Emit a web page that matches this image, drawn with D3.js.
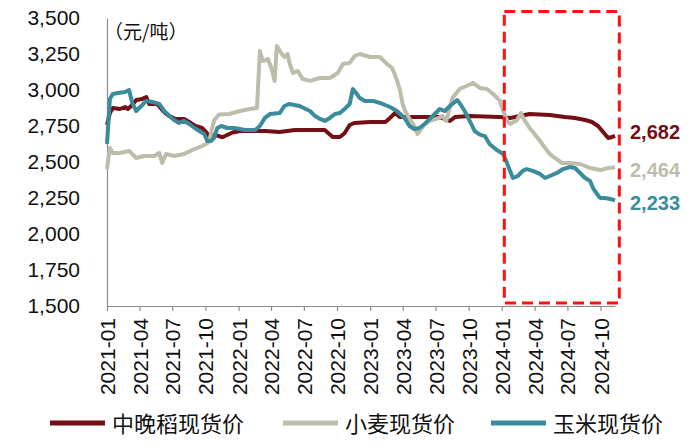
<!DOCTYPE html>
<html><head><meta charset="utf-8">
<script src="https://cdn.jsdelivr.net/npm/d3@7"></script>
<style>body{margin:0;background:#fff}svg{display:block}text{font-family:"Liberation Sans",Arial,sans-serif}</style>
</head><body><svg id="c" width="700" height="448"></svg>
<script>
const seriesNames = ["中晚稻现货价", "小麦现货价", "玉米现货价"];
const seriesColors = ["#730F15", "#BEBCAB", "#3A8C9C"];
const endLabels = ["2,682", "2,464", "2,233"];
const yTicks = [1500, 1750, 2000, 2250, 2500, 2750, 3000, 3250, 3500];
const xTickLabels = ["2021-01","2021-04","2021-07","2021-10","2022-01","2022-04","2022-07","2022-10","2023-01","2023-04","2023-07","2023-10","2024-01","2024-04","2024-07","2024-10"];
const unitLabel = "（元/吨）";
const highlightRange = ["2024-01-08", "2024-11-22"];
const highlightValues = [1520, 3545];

const riceData = [
["2021-01-01",2757],["2021-01-09",2840],["2021-01-17",2875],["2021-02-06",2868],["2021-02-20",2882],["2021-02-28",2868],["2021-03-12",2896],["2021-03-23",2931],["2021-04-09",2938],["2021-04-20",2951],["2021-04-28",2903],["2021-05-20",2903],["2021-06-01",2868],["2021-06-12",2840],["2021-06-23",2819],["2021-07-10",2799],["2021-08-03",2799],["2021-08-17",2778],["2021-09-03",2750],["2021-09-22",2736],["2021-10-03",2708],["2021-10-11",2680],["2021-10-28",2688],["2021-11-17",2672],["2021-12-15",2705],["2022-01-05",2715],["2022-01-19",2715],["2022-03-15",2715],["2022-04-25",2708],["2022-06-06",2722],["2022-07-18",2722],["2022-08-28",2722],["2022-09-19",2674],["2022-10-09",2674],["2022-10-22",2700],["2022-11-05",2757],["2022-11-19",2771],["2023-01-01",2778],["2023-02-12",2778],["2023-02-25",2806],["2023-03-11",2840],["2023-03-25",2812],["2023-05-17",2812],["2023-07-13",2812],["2023-08-10",2785],["2023-08-24",2812],["2023-10-04",2819],["2023-12-27",2812],["2024-01-24",2806],["2024-02-20",2819],["2024-03-18",2833],["2024-05-13",2826],["2024-06-24",2812],["2024-07-22",2806],["2024-08-19",2792],["2024-09-07",2778],["2024-09-24",2750],["2024-10-08",2708],["2024-10-22",2667],["2024-11-02",2674],["2024-11-10",2682]
];
const wheatData = [
["2021-01-01",2451],["2021-01-09",2597],["2021-01-17",2563],["2021-02-06",2563],["2021-03-04",2576],["2021-03-23",2528],["2021-04-14",2542],["2021-05-12",2542],["2021-05-26",2563],["2021-06-03",2493],["2021-06-14",2556],["2021-07-06",2542],["2021-08-03",2556],["2021-09-01",2590],["2021-09-22",2611],["2021-10-03",2625],["2021-10-11",2640],["2021-10-25",2790],["2021-11-08",2830],["2021-12-06",2833],["2022-01-05",2854],["2022-02-01",2868],["2022-02-21",2875],["2022-03-01",3271],["2022-03-09",3201],["2022-03-23",3215],["2022-04-02",3153],["2022-04-11",3063],["2022-04-17",3306],["2022-05-01",3250],["2022-05-09",3229],["2022-05-17",3250],["2022-05-23",3180],["2022-06-01",3118],["2022-06-14",3132],["2022-06-28",3076],["2022-07-18",3063],["2022-08-15",3083],["2022-09-11",3083],["2022-10-03",3118],["2022-10-17",3180],["2022-11-05",3188],["2022-11-19",3236],["2022-12-03",3250],["2023-01-01",3229],["2023-01-28",3229],["2023-02-17",3180],["2023-03-03",3153],["2023-03-17",3063],["2023-03-25",2993],["2023-04-01",2903],["2023-04-09",2850],["2023-04-20",2800],["2023-05-01",2760],["2023-05-12",2694],["2023-05-20",2720],["2023-06-01",2764],["2023-06-15",2785],["2023-07-03",2799],["2023-07-20",2820],["2023-07-31",2785],["2023-08-17",2944],["2023-09-06",3007],["2023-09-25",3028],["2023-10-13",3049],["2023-11-01",3014],["2023-11-21",3007],["2023-12-08",2972],["2023-12-27",2924],["2024-01-05",2854],["2024-01-16",2785],["2024-01-24",2764],["2024-02-12",2790],["2024-02-23",2840],["2024-03-05",2785],["2024-03-18",2736],["2024-04-01",2694],["2024-04-16",2646],["2024-04-30",2597],["2024-05-13",2556],["2024-05-27",2528],["2024-06-16",2493],["2024-07-08",2493],["2024-08-05",2486],["2024-09-02",2458],["2024-09-30",2444],["2024-10-22",2458],["2024-11-10",2464]
];
const cornData = [
["2021-01-01",2625],["2021-01-09",2937],["2021-01-17",2972],["2021-01-31",2979],["2021-02-20",2986],["2021-03-03",3000],["2021-03-12",2910],["2021-03-23",2854],["2021-04-06",2889],["2021-04-20",2924],["2021-05-07",2917],["2021-05-26",2903],["2021-06-09",2854],["2021-06-23",2819],["2021-07-06",2792],["2021-07-20",2771],["2021-08-03",2785],["2021-08-17",2764],["2021-09-01",2736],["2021-09-14",2715],["2021-09-28",2694],["2021-10-06",2646],["2021-10-17",2646],["2021-10-25",2667],["2021-11-03",2736],["2021-11-14",2750],["2021-12-01",2736],["2021-12-20",2736],["2022-01-19",2722],["2022-02-16",2722],["2022-03-01",2750],["2022-03-15",2806],["2022-03-29",2833],["2022-04-25",2840],["2022-05-08",2889],["2022-05-22",2903],["2022-06-19",2889],["2022-07-18",2854],["2022-08-01",2819],["2022-08-15",2799],["2022-08-28",2785],["2022-09-11",2806],["2022-09-25",2833],["2022-10-09",2840],["2022-10-22",2868],["2022-11-05",2903],["2022-11-14",3007],["2022-11-25",2972],["2022-12-03",2944],["2022-12-17",2924],["2023-01-09",2924],["2023-01-28",2910],["2023-02-25",2882],["2023-03-16",2854],["2023-04-06",2806],["2023-04-20",2750],["2023-05-03",2729],["2023-05-17",2736],["2023-06-01",2764],["2023-06-15",2799],["2023-06-29",2833],["2023-07-13",2868],["2023-07-27",2854],["2023-08-10",2889],["2023-08-30",2930],["2023-09-06",2910],["2023-09-20",2854],["2023-10-04",2785],["2023-10-18",2715],["2023-11-01",2690],["2023-11-15",2680],["2023-11-28",2625],["2023-12-18",2583],["2024-01-05",2556],["2024-01-13",2507],["2024-01-24",2438],["2024-02-01",2389],["2024-02-15",2403],["2024-02-28",2438],["2024-03-10",2451],["2024-03-27",2438],["2024-04-16",2417],["2024-04-30",2389],["2024-05-13",2403],["2024-06-02",2424],["2024-06-19",2451],["2024-07-08",2465],["2024-07-22",2458],["2024-08-05",2424],["2024-08-19",2389],["2024-09-02",2368],["2024-09-10",2319],["2024-09-21",2278],["2024-09-30",2250],["2024-10-14",2250],["2024-10-28",2243],["2024-11-10",2233]
];

const parse = d3.timeParse("%Y-%m-%d");
const svg = d3.select("#c");
const x = d3.scaleTime().domain([parse("2021-01-01"), parse("2024-11-10")]).range([107, 615]);
const y = d3.scaleLinear().domain([1500, 3500]).range([306, 18]);
const fmt = d3.format(",");

// y axis
const yAxis = svg.append("g").attr("transform", "translate(107,0)")
  .call(d3.axisLeft(y).tickValues(yTicks).tickFormat(fmt).tickSize(0).tickPadding(27));
yAxis.select(".domain").attr("stroke", "#8c8c8c").attr("stroke-width", 1.2);
yAxis.selectAll("text").attr("font-size", 21).attr("fill", "#111");

// x axis
const xTickDates = xTickLabels.map(s => parse(s + "-01"));
const xAxis = svg.append("g").attr("transform", "translate(0,306)")
  .call(d3.axisBottom(x).tickValues(xTickDates).tickFormat(d3.timeFormat("%Y-%m")).tickSize(5).tickSizeOuter(0));
xAxis.select(".domain").attr("stroke", "#8c8c8c").attr("stroke-width", 1.2);
xAxis.selectAll(".tick line").attr("stroke", "#8c8c8c").attr("stroke-width", 1.2);
xAxis.selectAll("text").attr("font-size", 21).attr("fill", "#111")
  .attr("transform", "rotate(-90)").attr("text-anchor", "end")
  .attr("x", -12).attr("y", 0).attr("dy", "0.36em");

// unit label
svg.append("text").attr("x", 104).attr("y", 39).attr("font-size", 19).attr("fill", "#111")
  .style("font-family", "'Noto Sans CJK SC', sans-serif").text(unitLabel);

// lines
const line = d3.line().x(d => x(parse(d[0]))).y(d => y(d[1]));
const allData = [riceData, wheatData, cornData];
allData.forEach((data, i) => {
  svg.append("path").datum(data).attr("d", line).attr("fill", "none")
    .attr("stroke", seriesColors[i]).attr("stroke-width", 4).attr("stroke-linejoin", "round");
});

// highlight box
svg.append("rect")
  .attr("x", x(parse(highlightRange[0]))).attr("y", y(highlightValues[1]))
  .attr("width", x(parse(highlightRange[1])) - x(parse(highlightRange[0])))
  .attr("height", y(highlightValues[0]) - y(highlightValues[1]))
  .attr("fill", "none").attr("stroke", "#FF1010").attr("stroke-width", 3).attr("stroke-dasharray", "11,6");

// end labels
const endYs = [132, 170, 203];
endLabels.forEach((t, i) => {
  svg.append("text").attr("x", 630).attr("y", endYs[i]).attr("dy", "0.35em")
    .attr("font-size", 20).attr("font-weight", "bold").attr("fill", seriesColors[i]).text(t);
});

// legend
const legX = [50, 283, 491];
seriesNames.forEach((n, i) => {
  svg.append("line").attr("x1", legX[i]).attr("x2", legX[i] + 55).attr("y1", 423).attr("y2", 423)
    .attr("stroke", seriesColors[i]).attr("stroke-width", 5);
  svg.append("text").attr("x", legX[i] + 62).attr("y", 424).attr("dy", "0.35em")
    .attr("font-size", 22).attr("fill", "#111")
    .style("font-family", "'Noto Sans CJK SC', sans-serif").text(n);
});
</script></body></html>
